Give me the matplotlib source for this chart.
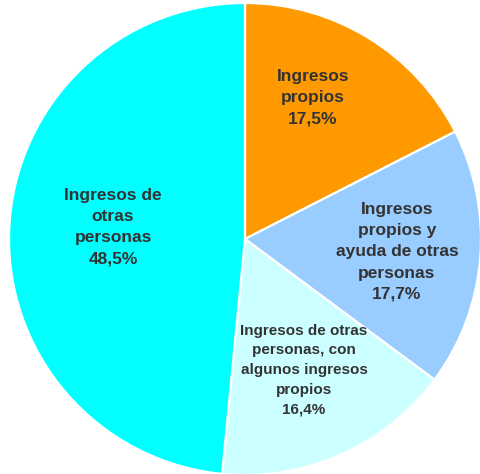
import matplotlib.pyplot as plt

categories = ['Ingresos\npropios', 'Ingresos\npropios y\nayuda de otras\npersonas',
              'Ingresos de otras\npersonas, con\nalgunos ingresos\npropios',
              'Ingresos de\notras\npersonas']
values = [17.5, 17.7, 16.4, 48.5]
colors = ['#FF9900', '#99CCFF', '#CCFFFF', '#00FFFF']

# label placement (data coords), font sizes, line spacing
label_pos = [(0.288, 0.60), (0.644, -0.055), (0.25, -0.555), (-0.559, 0.05)]
label_size = [12.5, 12.5, 11, 12.5]
label_ls = [1.52, 1.52, 1.52, 1.52]

plt.rcParams['font.family'] = ['Liberation Sans', 'DejaVu Sans']

fig = plt.figure(figsize=(4.81, 4.74), dpi=100)
cx, cy, r = 245, 239, 236
ax = fig.add_axes([(cx - r) / 481, (474 - cy - r) / 474, 2 * r / 481, 2 * r / 474])

ax.pie(values, colors=colors, startangle=90, counterclock=False,
       wedgeprops=dict(edgecolor='white', linewidth=1.6), radius=1)
ax.set_xlim(-1, 1)
ax.set_ylim(-1, 1)
ax.set_aspect('auto')
ax.axis('off')

for lab, v, (x, y), fs, ls in zip(categories, values, label_pos, label_size, label_ls):
    txt = lab + '\n' + f'{v:.1f}%'.replace('.', ',')
    ax.text(x, y, txt, ha='center', va='center', multialignment='center',
            fontsize=fs, fontweight='bold', color='#333333', linespacing=ls)

fig.savefig('out.png', dpi=100)
